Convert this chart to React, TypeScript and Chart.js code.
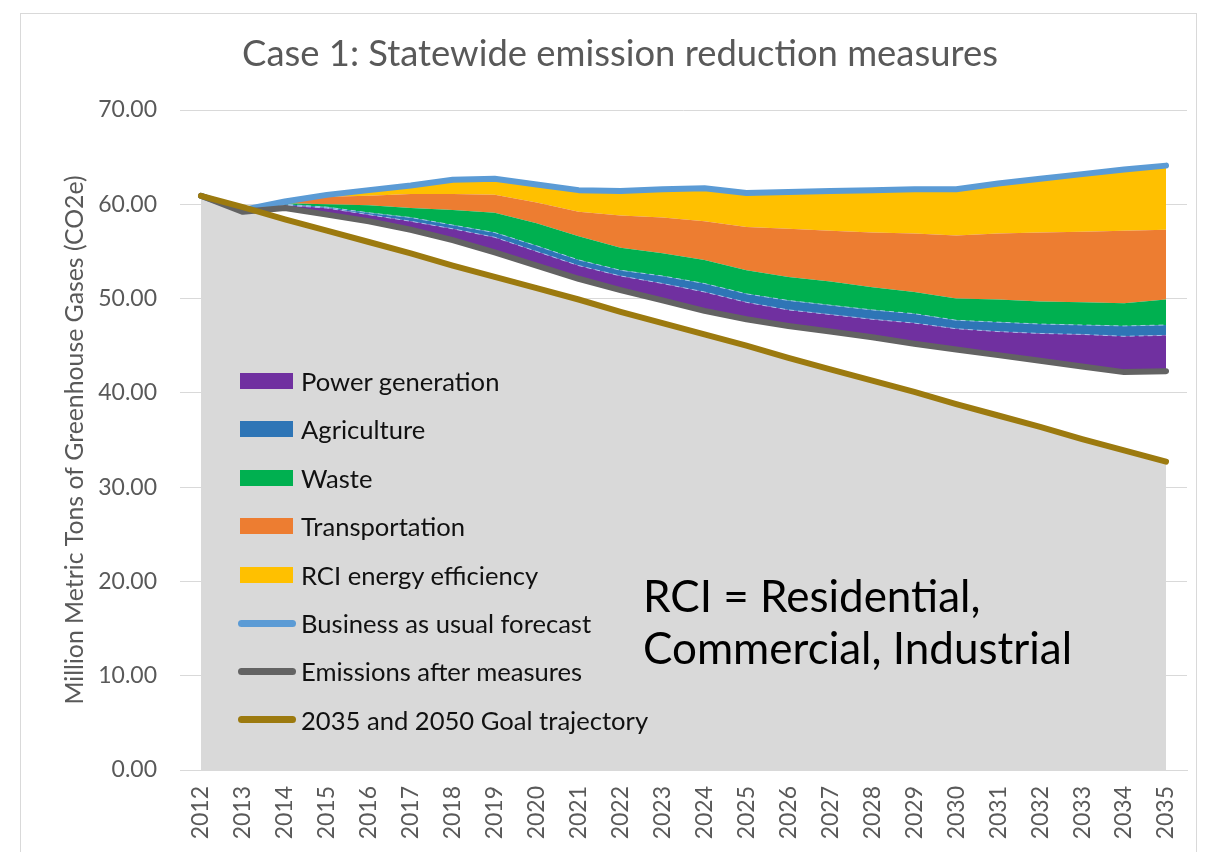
import React, { useEffect, useRef } from "react";
import { Chart, registerables } from "chart.js";

Chart.register(...registerables);

// Years on the category axis
const years = [
  "2012", "2013", "2014", "2015", "2016", "2017", "2018", "2019",
  "2020", "2021", "2022", "2023", "2024", "2025", "2026", "2027",
  "2028", "2029", "2030", "2031", "2032", "2033", "2034", "2035",
];

// Million metric tons CO2e
const emissionsAfterMeasures = [
  60.9, 59.2, 59.6, 58.9, 58.2, 57.3, 56.2, 54.9, 53.5, 52.1, 50.9, 49.8,
  48.7, 47.8, 47.1, 46.5, 45.9, 45.2, 44.6, 44.0, 43.4, 42.8, 42.2, 42.3,
];
const powerGeneration = [
  0, 0.1, 0.3, 0.7, 0.7, 0.9, 1.2, 1.6, 1.5, 1.4, 1.5, 1.8,
  2.0, 1.8, 1.7, 1.8, 1.9, 2.2, 2.2, 2.5, 2.9, 3.4, 3.8, 3.8,
];
const agriculture = [
  0, 0.1, 0.1, 0.1, 0.2, 0.4, 0.4, 0.5, 0.6, 0.6, 0.6, 0.8,
  0.9, 0.9, 1.0, 1.0, 1.0, 1.0, 0.9, 1.0, 1.0, 1.0, 1.1, 1.1,
];
const waste = [
  0, 0, 0.1, 0.3, 0.8, 1.0, 1.6, 2.1, 2.4, 2.5, 2.4, 2.4,
  2.5, 2.5, 2.5, 2.5, 2.4, 2.3, 2.3, 2.4, 2.4, 2.4, 2.4, 2.7,
];
const transportation = [
  0, 0, 0.1, 0.8, 1.0, 1.5, 1.7, 1.9, 2.2, 2.6, 3.4, 3.8,
  4.1, 4.6, 5.1, 5.4, 5.8, 6.2, 6.7, 7.0, 7.3, 7.5, 7.7, 7.4,
];
const rciEnergyEfficiency = [
  0, 0, 0.1, 0.2, 0.6, 0.9, 1.5, 1.7, 1.9, 2.3, 2.6, 3.0,
  3.5, 3.6, 3.9, 4.2, 4.5, 4.7, 4.9, 5.3, 5.7, 6.1, 6.5, 6.8,
];
const businessAsUsual = [
  60.9, 59.4, 60.3, 61.0, 61.5, 62.0, 62.6, 62.7, 62.1, 61.5, 61.4, 61.6,
  61.7, 61.2, 61.3, 61.4, 61.5, 61.6, 61.6, 62.2, 62.7, 63.2, 63.7, 64.1,
];
const goalTrajectory = [
  60.9, 59.7, 58.4, 57.2, 56.0, 54.8, 53.5, 52.3, 51.1, 49.9, 48.6, 47.4,
  46.2, 45.0, 43.7, 42.5, 41.3, 40.1, 38.8, 37.6, 36.4, 35.1, 33.9, 32.7,
];

const yMin = 0;
const yMax = 70;
const yStep = 10;

const COLORS = {
  power: "#7030a0",
  agriculture: "#2e75b6",
  waste: "#00b050",
  transportation: "#ed7d31",
  rci: "#ffc000",
  bau: "#5b9bd5",
  after: "#636363",
  goal: "#9c7a0f",
  goalFill: "#d9d9d9",
  grid: "#d9d9d9",
  axisText: "#595959",
};

const FONT = "Lato, 'Open Sans', sans-serif";

type LegendItem = { label: string; color: string; kind: "box" | "line" };

const legendItems: LegendItem[] = [
  { label: "Power generation", color: COLORS.power, kind: "box" },
  { label: "Agriculture", color: COLORS.agriculture, kind: "box" },
  { label: "Waste", color: COLORS.waste, kind: "box" },
  { label: "Transportation", color: COLORS.transportation, kind: "box" },
  { label: "RCI energy efficiency", color: COLORS.rci, kind: "box" },
  { label: "Business as usual forecast", color: COLORS.bau, kind: "line" },
  { label: "Emissions after measures", color: COLORS.after, kind: "line" },
  { label: "2035 and 2050 Goal trajectory", color: COLORS.goal, kind: "line" },
];

const CHART_LEFT = 180;
const CHART_TOP = 110;
const CHART_RIGHT = 1187;
const CHART_BOTTOM = 770;
const W = 1225;
const H = 852;

export default function App() {
  const canvasRef = useRef<HTMLCanvasElement | null>(null);

  useEffect(() => {
    const canvas = canvasRef.current;
    if (!canvas) return;

    const area = (label: string, data: number[], color: string, extra: any = {}) => ({
      label,
      data,
      stack: "measures",
      backgroundColor: color,
      borderColor: color,
      borderWidth: 0,
      fill: "-1",
      pointRadius: 0,
      order: 5,
      ...extra,
    });

    const dashedEdge = {
      borderWidth: 1,
      borderColor: "rgba(170, 205, 240, 0.85)",
      borderDash: [5, 4],
    };

    const chart = new Chart(canvas, {
      type: "line",
      data: {
        labels: years,
        datasets: [
          {
            label: "base",
            data: emissionsAfterMeasures,
            stack: "measures",
            borderWidth: 0,
            borderColor: "rgba(0,0,0,0)",
            backgroundColor: "rgba(0,0,0,0)",
            fill: false,
            pointRadius: 0,
            order: 5,
          },
          area("Power generation", powerGeneration, COLORS.power, dashedEdge),
          area("Agriculture", agriculture, COLORS.agriculture, dashedEdge),
          area("Waste", waste, COLORS.waste),
          area("Transportation", transportation, COLORS.transportation),
          area("RCI energy efficiency", rciEnergyEfficiency, COLORS.rci),
          {
            label: "Business as usual forecast",
            data: businessAsUsual,
            stack: "bau",
            borderColor: COLORS.bau,
            borderWidth: 6,
            borderCapStyle: "round",
            borderJoinStyle: "round",
            fill: false,
            pointRadius: 0,
            order: 3,
          },
          {
            label: "Emissions after measures",
            data: emissionsAfterMeasures,
            stack: "after",
            borderColor: COLORS.after,
            borderWidth: 6,
            borderCapStyle: "round",
            borderJoinStyle: "round",
            fill: false,
            pointRadius: 0,
            order: 2,
          },
          {
            label: "2035 and 2050 Goal trajectory",
            data: goalTrajectory,
            stack: "goal",
            borderColor: COLORS.goal,
            borderWidth: 6,
            borderCapStyle: "round",
            borderJoinStyle: "round",
            fill: false,
            pointRadius: 0,
            order: 1,
          },
          {
            label: "goal area",
            data: goalTrajectory,
            stack: "goalArea",
            borderWidth: 0,
            borderColor: COLORS.goalFill,
            backgroundColor: COLORS.goalFill,
            fill: "origin",
            pointRadius: 0,
            order: 10,
          },
        ] as any,
      },
      options: {
        responsive: false,
        animation: false,
        events: [],
        layout: {
          padding: { left: 0, top: CHART_TOP, right: W - CHART_RIGHT, bottom: 0 },
        },
        elements: { line: { tension: 0 }, point: { radius: 0 } },
        plugins: {
          legend: { display: false },
          title: { display: false },
          tooltip: { enabled: false },
        },
        scales: {
          x: {
            type: "category",
            offset: true,
            stacked: true,
            grid: { display: false, drawTicks: false },
            border: { display: true, color: COLORS.grid, width: 1 },
            ticks: {
              autoSkip: false,
              maxRotation: 90,
              minRotation: 90,
              padding: 16,
              color: COLORS.axisText,
              font: { family: FONT, size: 23 },
            },
            afterFit: (scale: any) => {
              scale.height = H - CHART_BOTTOM;
            },
          },
          y: {
            stacked: true,
            min: yMin,
            max: yMax,
            grid: { color: COLORS.grid, lineWidth: 1, drawTicks: false },
            border: { display: false },
            ticks: {
              stepSize: yStep,
              padding: 23,
              color: COLORS.axisText,
              font: { family: FONT, size: 23 },
              callback: (v: any) => Number(v).toFixed(2),
            },
            title: {
              display: true,
              text: "Million Metric Tons of Greenhouse Gases (CO2e)",
              color: COLORS.axisText,
              font: { family: FONT, size: 24.8 },
              padding: { top: 60, bottom: 0 },
            },
            afterFit: (scale: any) => {
              scale.width = CHART_LEFT;
            },
          },
        },
      } as any,
    });

    return () => chart.destroy();
  }, []);

  const rowTop = 381;
  const rowGap = 48.4;

  return (
    <div
      style={{
        position: "fixed",
        left: 0,
        top: 0,
        width: W,
        height: H,
        background: "#ffffff",
        overflow: "hidden",
        fontFamily: FONT,
      }}
    >
      <div
        style={{
          position: "absolute",
          left: 20,
          top: 13,
          width: 1177,
          height: 860,
          border: "1px solid #d9d9d9",
          boxSizing: "border-box",
        }}
      />
      <canvas
        ref={canvasRef}
        width={W}
        height={H}
        style={{ position: "absolute", left: 0, top: 0 }}
      />
      <div
        style={{
          position: "absolute",
          left: 0,
          width: 1240,
          top: 29,
          textAlign: "center",
          fontSize: 36.4,
          lineHeight: "46px",
          color: "#595959",
          whiteSpace: "nowrap",
        }}
      >
        Case 1: Statewide emission reduction measures
      </div>

      {legendItems.map((item, i) => {
        const cy = rowTop + i * rowGap;
        return (
          <React.Fragment key={item.label}>
            {item.kind === "box" ? (
              <div
                style={{
                  position: "absolute",
                  left: 240,
                  top: cy - 8,
                  width: 53,
                  height: 16,
                  background: item.color,
                }}
              />
            ) : (
              <div
                style={{
                  position: "absolute",
                  left: 238,
                  top: cy - 3.5,
                  width: 58,
                  height: 7,
                  borderRadius: 3.5,
                  background: item.color,
                }}
              />
            )}
            <div
              style={{
                position: "absolute",
                left: 301,
                top: cy - 17,
                height: 34,
                lineHeight: "34px",
                fontSize: 25.6,
                color: "#111111",
                whiteSpace: "nowrap",
              }}
            >
              {item.label}
            </div>
          </React.Fragment>
        );
      })}

      <div
        style={{
          position: "absolute",
          left: 643,
          top: 569,
          fontSize: 44,
          lineHeight: "52px",
          color: "#000000",
          whiteSpace: "nowrap",
        }}
      >
        <div>RCI = Residential,</div>
        <div>Commercial, Industrial</div>
      </div>
    </div>
  );
}
